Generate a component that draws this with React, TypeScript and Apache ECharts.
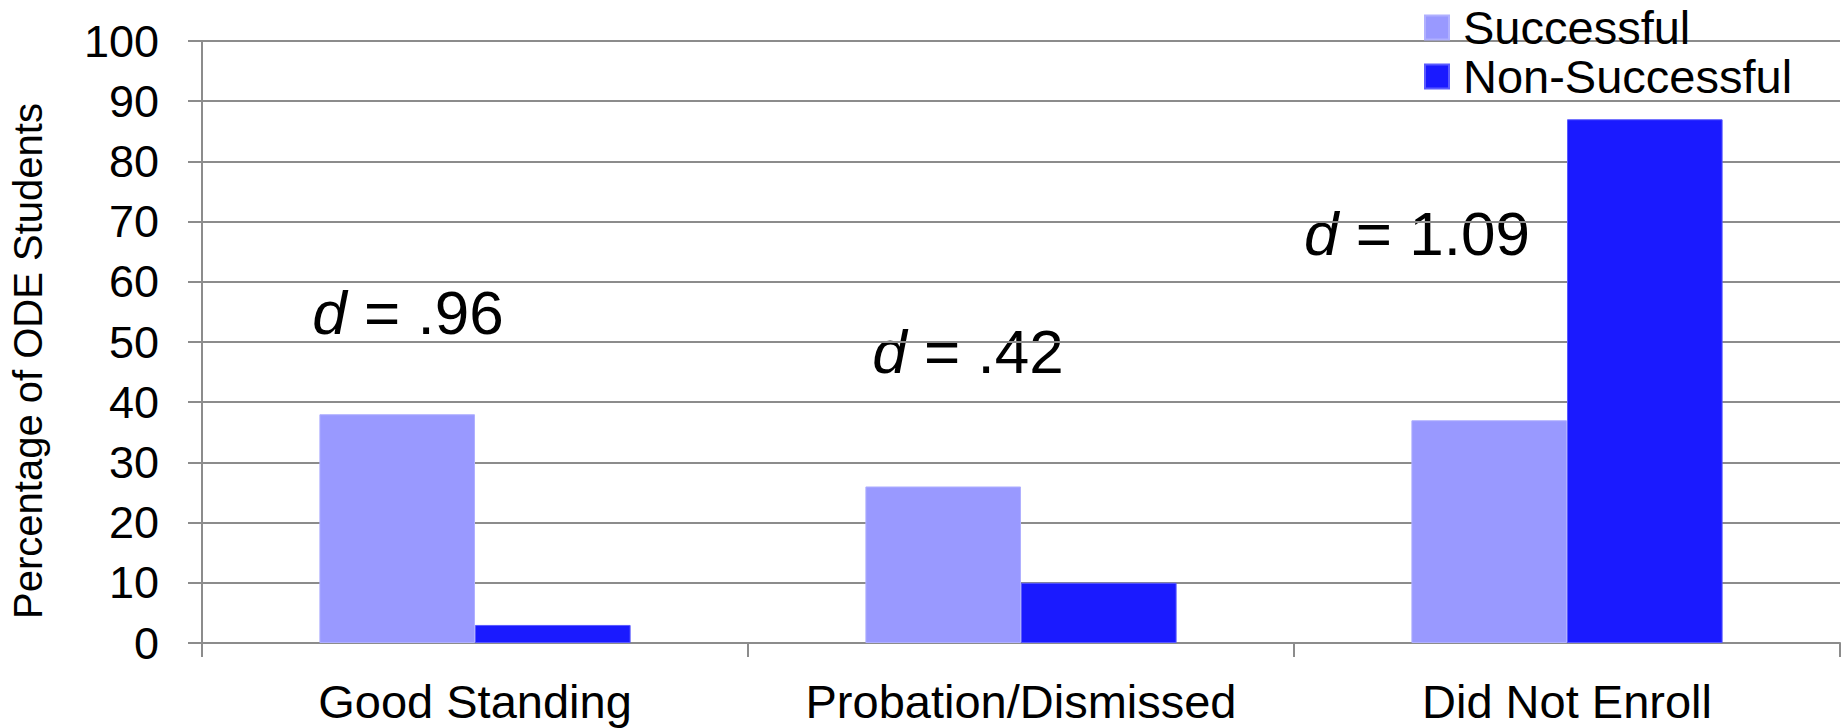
import React, { useEffect, useRef } from "react";
import * as echarts from "echarts";

const categories = ["Good Standing", "Probation/Dismissed", "Did Not Enroll"];
const seriesNames = ["Successful", "Non-Successful"];
const successful = [38, 26, 37];
const nonSuccessful = [3, 10, 87];
const effectSizes = [".96", ".42", "1.09"];
const yAxisTitle = "Percentage of ODE Students";

const FONT = "'Liberation Sans', Arial, Helvetica, sans-serif";

export default function App() {
  const ref = useRef<HTMLDivElement>(null);

  useEffect(() => {
    document.body.style.margin = "0";
    const chart = echarts.init(ref.current!, undefined, { renderer: "svg" });
    const annotationPos = [
      [408, 312],
      [968, 351],
      [1417, 233],
    ];
    chart.setOption({
      animation: false,
      backgroundColor: "#ffffff",
      textStyle: { fontFamily: FONT },
      grid: { left: 202, right: 1, top: 41, bottom: 85, containLabel: false },
      legend: {
        orient: "vertical",
        left: 1424,
        top: 4,
        padding: 0,
        icon: "rect",
        itemWidth: 24,
        itemHeight: 24,
        itemGap: 2,
        data: seriesNames,
        textStyle: {
          fontFamily: FONT,
          fontSize: 47,
          lineHeight: 47,
          color: "#000",
          padding: [0, 0, 0, 9],
        },
      },
      xAxis: {
        type: "category",
        data: categories,
        boundaryGap: true,
        axisLine: { show: true, lineStyle: { color: "#8c8c8c", width: 2 } },
        axisTick: { show: true, length: 14, interval: 0, lineStyle: { color: "#8c8c8c", width: 2 } },
        axisLabel: { fontFamily: FONT, fontSize: 47, color: "#000", margin: 35, interval: 0 },
        splitLine: { show: false },
      },
      yAxis: {
        type: "value",
        min: 0,
        max: 100,
        interval: 10,
        axisLine: { show: true, lineStyle: { color: "#8c8c8c", width: 2 } },
        axisTick: { show: true, length: 14, lineStyle: { color: "#8c8c8c", width: 2 } },
        axisLabel: { fontFamily: FONT, fontSize: 45, color: "#000", margin: 43 },
        splitLine: { show: true, lineStyle: { color: "#8c8c8c", width: 2 } },
      },
      series: [
        {
          name: seriesNames[0],
          type: "bar",
          data: successful,
          barGap: "0%",
          barCategoryGap: "43%",
          itemStyle: { color: "#9999ff", borderColor: "#b0b0ff", borderWidth: 1 },
        },
        {
          name: seriesNames[1],
          type: "bar",
          data: nonSuccessful,
          barGap: "0%",
          barCategoryGap: "43%",
          itemStyle: { color: "#1a1aff", borderColor: "#5a5aff", borderWidth: 1 },
        },
      ],
      graphic: [
        {
          type: "text",
          x: 28,
          y: 361,
          rotation: Math.PI / 2,
          style: {
            text: yAxisTitle,
            fontFamily: FONT,
            fontSize: 40,
            fill: "#000",
            textAlign: "center",
            textVerticalAlign: "middle",
          },
        },
        ...effectSizes.map((v, i) => ({
          type: "text",
          x: annotationPos[i][0],
          y: annotationPos[i][1],
          style: {
            text: "{i|d} = " + v,
            fontFamily: FONT,
            fontSize: 62,
            fill: "#000",
            textAlign: "center",
            textVerticalAlign: "middle",
            rich: {
              i: { fontStyle: "italic", fontFamily: FONT, fontSize: 62, fill: "#000" },
            },
          },
        })),
      ],
    });
    return () => chart.dispose();
  }, []);

  return (
    <div
      ref={ref}
      style={{ position: "fixed", left: 0, top: 0, width: 1841, height: 728 }}
    />
  );
}
